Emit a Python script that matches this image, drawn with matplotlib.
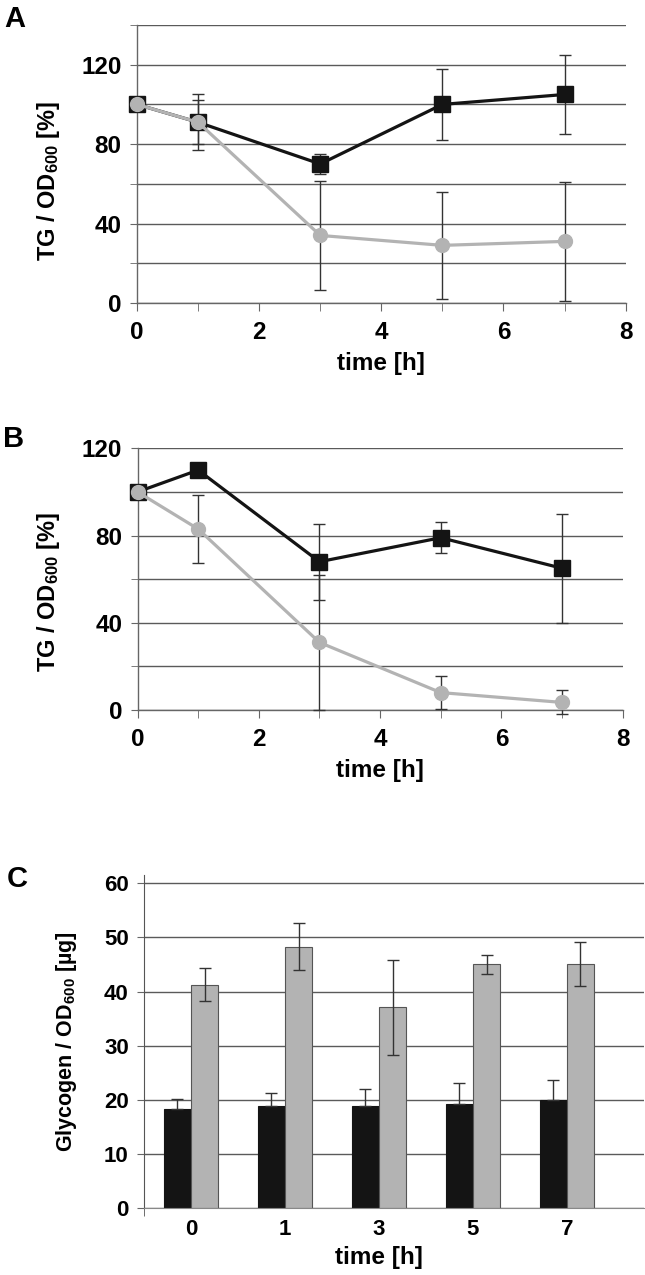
import numpy as np
import matplotlib
matplotlib.use("Agg")
import matplotlib.pyplot as plt
from matplotlib.ticker import MultipleLocator

plt.rcParams['font.family'] = ['Liberation Sans', 'DejaVu Sans']
plt.rcParams['font.weight'] = 'bold'
plt.rcParams['mathtext.fontset'] = 'custom'
plt.rcParams['mathtext.rm'] = 'Liberation Sans:bold'
plt.rcParams['mathtext.bf'] = 'Liberation Sans:bold'
plt.rcParams['mathtext.default'] = 'bf'

# --- data ---
time_h = [0, 1, 3, 5, 7]

# panel A
a_black = [100, 91, 70, 100, 105]
a_black_err = [0, 14, 5, 18, 20]
a_gray = [100, 91, 34, 29, 31]
a_gray_err = [0, 11, 27.5, 27, 30]

# panel B
b_black = [100, 110, 68, 79, 65]
b_black_err = [0, 0, 17.5, 7, 25]
b_gray = [100, 83, 31, 8, 3.5]
b_gray_err = [0, 15.7, 31, 7.5, 5.5]

# panel C
c_labels = ['0', '1', '3', '5', '7']
c_black = [18.4, 18.8, 18.9, 19.3, 20.0]
c_black_err = [1.8, 2.5, 3.2, 3.8, 3.7]
c_gray = [41.3, 48.3, 37.1, 45.0, 45.1]
c_gray_err = [3.0, 4.4, 8.8, 1.7, 4.0]

BLACK = '#141414'
GRAY = '#b3b3b3'
GRID = '#5a5a5a'
ERR = '#333333'

fig = plt.figure(figsize=(6.45, 12.75), dpi=100)


def line_panel(rect, yb, yb_err, yg, yg_err, ymax, ylabel_y):
    ax = fig.add_axes(rect)
    ax.errorbar(time_h, yb, yerr=yb_err, fmt='none', ecolor=ERR, elinewidth=1,
                capsize=4, capthick=1, zorder=3, clip_on=False)
    ax.errorbar(time_h, yg, yerr=yg_err, fmt='none', ecolor=ERR, elinewidth=1,
                capsize=4, capthick=1, zorder=3, clip_on=False)
    ax.plot(time_h, yb, color=BLACK, lw=2.3, marker='s', ms=11, zorder=4, clip_on=False)
    ax.plot(time_h, yg, color=GRAY, lw=2.3, marker='o', ms=10, zorder=5, clip_on=False)
    ax.set_xlim(0, 8)
    ax.set_ylim(0, ymax)
    ax.xaxis.set_major_locator(MultipleLocator(2))
    ax.xaxis.set_minor_locator(MultipleLocator(1))
    ax.yaxis.set_major_locator(MultipleLocator(40))
    ax.yaxis.set_minor_locator(MultipleLocator(20))
    ax.grid(True, which='both', axis='y', color=GRID, lw=1)
    ax.set_axisbelow(True)
    for s in ['top', 'right']:
        ax.spines[s].set_visible(False)
    for s in ['left', 'bottom']:
        ax.spines[s].set_color('#666666')
        ax.spines[s].set_linewidth(1)
    ax.tick_params(axis='x', which='both', direction='out', length=6, color='#666666',
                   labelsize=17.5, pad=7)
    ax.tick_params(axis='y', which='major', direction='out', length=5, color='#666666',
                   labelsize=17.5, pad=6)
    ax.tick_params(axis='y', which='minor', length=5, color='#666666')
    ax.set_xlabel('time [h]', fontsize=17.5, fontweight='bold', labelpad=6)
    ax.set_ylabel(r'TG / OD$_{600}$ [%]', fontsize=17, fontweight='bold', labelpad=14)
    ax.yaxis.label.set_y(ylabel_y)
    return ax


line_panel([0.2124, 0.7624, 0.7576, 0.2180], a_black, a_black_err, a_gray, a_gray_err, 140, 0.44)
line_panel([0.2132, 0.4431, 0.7522, 0.2053], b_black, b_black_err, b_gray, b_gray_err, 120, 0.45)

# panel C
axc = fig.add_axes([0.2233, 0.0523, 0.7750, 0.2614])
x = np.arange(len(c_labels))
w = 0.29
axc.bar(x - w / 2, c_black, w, color=BLACK, edgecolor=BLACK, lw=0.8, zorder=2)
axc.bar(x + w / 2, c_gray, w, color=GRAY, edgecolor='#555555', lw=0.8, zorder=2)
# lower half of the black bars' error bars is hidden in the bar itself
axc.errorbar(x - w / 2, c_black, yerr=[np.zeros(len(c_black)), c_black_err], fmt='none',
             ecolor=ERR, elinewidth=1, capsize=4, capthick=1, zorder=3)
axc.errorbar(x + w / 2, c_gray, yerr=c_gray_err, fmt='none', ecolor=ERR,
             elinewidth=1, capsize=4, capthick=1, zorder=3)
axc.set_xlim(-0.5, 4.82)
axc.set_ylim(0, 61.5)
axc.set_yticks([0, 10, 20, 30, 40, 50, 60])
axc.set_xticks(x)
axc.set_xticklabels(c_labels)
axc.set_xticks([-0.5], minor=True)
axc.grid(True, axis='y', color=GRID, lw=1)
axc.set_axisbelow(True)
for s in ['top', 'right']:
    axc.spines[s].set_visible(False)
axc.spines['left'].set_color('#555555')
axc.spines['bottom'].set_color('#888888')
axc.tick_params(axis='x', which='major', length=0, labelsize=16, pad=8)
axc.tick_params(axis='x', which='minor', length=6, color='#555555', direction='out')
axc.tick_params(axis='y', length=5, color='#666666', labelsize=16, pad=6)
axc.set_xlabel('time [h]', fontsize=17.5, fontweight='bold', labelpad=4)
axc.xaxis.label.set_x(0.47)
axc.set_ylabel(r'Glycogen / OD$_{600}$ [µg]', fontsize=15.5, fontweight='bold', labelpad=18)

# panel letters
fig.text(0.006, 0.996, 'A', fontsize=21, fontweight='bold', va='top', ha='left')
fig.text(0.004, 0.667, 'B', fontsize=21, fontweight='bold', va='top', ha='left')
fig.text(0.010, 0.3216, 'C', fontsize=21, fontweight='bold', va='top', ha='left')

fig.savefig('out.png', dpi=100)
